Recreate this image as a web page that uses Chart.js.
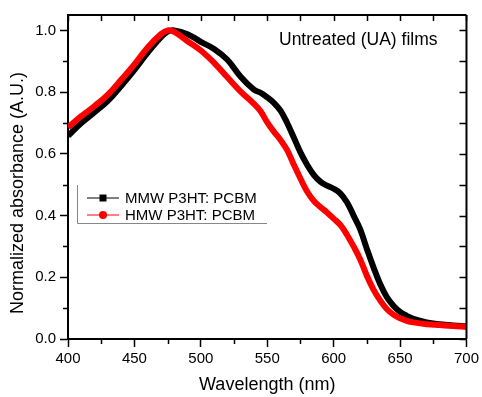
<!DOCTYPE html>
<html>
<head>
<meta charset="utf-8">
<script src="https://cdn.jsdelivr.net/npm/chart.js@4.4.1/dist/chart.umd.min.js"></script>
<style>
  html, body { margin: 0; padding: 0; background: #fff; }
  #wrap { width: 482px; height: 397px; position: relative; }
</style>
</head>
<body>
<div id="wrap"><canvas id="uv"></canvas></div>
<script>
// wavelength grid (nm)
const wavelength = [400, 410, 420, 430, 440, 450, 460, 470, 475, 480, 490, 500, 510, 520, 530, 540,
  545, 550, 555, 560, 565, 570, 575, 580, 585, 590, 595, 600, 605, 610, 615, 620, 625, 630, 635,
  640, 645, 650, 655, 660, 670, 680, 690, 700];

// MMW P3HT: PCBM (black)
const mmw = [0.658, 0.700, 0.735, 0.772, 0.820, 0.872, 0.928, 0.978, 0.996, 1.000, 0.988, 0.963,
  0.940, 0.905, 0.850, 0.808, 0.798, 0.783, 0.765, 0.740, 0.700, 0.653, 0.605, 0.565, 0.532,
  0.510, 0.497, 0.487, 0.472, 0.443, 0.400, 0.355, 0.292, 0.232, 0.178, 0.136, 0.108, 0.088,
  0.075, 0.065, 0.054, 0.048, 0.044, 0.041];

// HMW P3HT: PCBM (red)
const hmw = [0.686, 0.722, 0.755, 0.792, 0.840, 0.890, 0.945, 0.988, 1.000, 0.995, 0.965, 0.935,
  0.895, 0.848, 0.802, 0.762, 0.738, 0.702, 0.672, 0.645, 0.612, 0.565, 0.520, 0.478, 0.448,
  0.428, 0.410, 0.390, 0.370, 0.338, 0.300, 0.258, 0.205, 0.160, 0.125, 0.097, 0.079, 0.067,
  0.059, 0.054, 0.048, 0.045, 0.042, 0.040];

const seriesNames = ['MMW P3HT: PCBM', 'HMW P3HT: PCBM'];
const xTicks = [400, 450, 500, 550, 600, 650, 700];
const yTicks = [0.0, 0.2, 0.4, 0.6, 0.8, 1.0];
const note = 'Untreated (UA) films';
const xTitle = 'Wavelength (nm)';
const yTitle = 'Normalized absorbance (A.U.)';

const FONT = '"Liberation Sans", Arial, sans-serif';

const pts = vals => wavelength.map((w, i) => ({ x: w, y: vals[i] }));

// frame, minor / mirrored ticks, legend, annotation, y title
const decor = {
  id: 'decor',
  afterDraw(chart) {
    const { ctx, chartArea: a, scales: { x, y } } = chart;
    ctx.save();
    ctx.strokeStyle = '#000';
    ctx.lineWidth = 2;
    ctx.beginPath();
    ctx.moveTo(a.left, a.top); ctx.lineTo(a.right, a.top);
    ctx.moveTo(a.right, a.top); ctx.lineTo(a.right, a.bottom);
    ctx.stroke();

    ctx.lineWidth = 1.5;
    ctx.beginPath();
    // x: minor ticks outward at bottom, all ticks inward at top
    for (let w = 400; w <= 700; w += 25) {
      const px = Math.round(x.getPixelForValue(w)) + 0.5;
      if (w % 50 !== 0) { ctx.moveTo(px, a.bottom); ctx.lineTo(px, a.bottom + 5); }
      ctx.moveTo(px, a.top); ctx.lineTo(px, a.top + 6);
    }
    // y: minor ticks outward at left, all ticks inward at right
    for (let k = 0; k <= 10; k++) {
      const py = Math.round(y.getPixelForValue(k / 10)) + 0.5;
      if (k % 2 === 1) { ctx.moveTo(a.left, py); ctx.lineTo(a.left - 5, py); }
      ctx.moveTo(a.right, py); ctx.lineTo(a.right - 7, py);
    }
    ctx.stroke();

    // legend
    const lx = 77, ly0 = 198, dy = 17;
    ctx.strokeStyle = '#888';
    ctx.lineWidth = 1;
    ctx.beginPath();
    ctx.moveTo(lx + 0.5, 185); ctx.lineTo(lx + 0.5, 223.5); ctx.lineTo(267, 223.5);
    ctx.stroke();
    ctx.font = '15px ' + FONT;
    ctx.textBaseline = 'middle';
    ctx.textAlign = 'left';
    chart.data.datasets.slice().sort((p, q) => p.legendIndex - q.legendIndex).forEach((ds, i) => {
      const yy = ly0 + i * dy;
      ctx.strokeStyle = ds.borderColor;
      ctx.lineWidth = 1;
      ctx.beginPath(); ctx.moveTo(87, yy); ctx.lineTo(119, yy); ctx.stroke();
      ctx.fillStyle = ds.borderColor;
      if (ds.legendMarker === 'square') ctx.fillRect(99.5, yy - 3.5, 7, 7);
      else { ctx.beginPath(); ctx.arc(103, yy, 4, 0, Math.PI * 2); ctx.fill(); }
      ctx.fillStyle = '#000';
      ctx.fillText(ds.label, 125, yy + 1);
    });

    // annotation
    ctx.font = '17.5px ' + FONT;
    ctx.textBaseline = 'alphabetic';
    ctx.fillText(note, 279, 45);

    // y title
    ctx.font = '18px ' + FONT;
    ctx.translate(18, 193);
    ctx.rotate(-Math.PI / 2);
    ctx.textAlign = 'center';
    ctx.textBaseline = 'middle';
    ctx.fillText(yTitle, 0, 0);
    ctx.restore();
  }
};

new Chart(document.getElementById('uv'), {
  type: 'line',
  data: {
    datasets: [
      { label: seriesNames[0], data: pts(mmw), borderColor: '#000000', borderWidth: 6,
        pointRadius: 0, tension: 0.4, order: 1,
        legendIndex: 0, legendMarker: 'square' },
      { label: seriesNames[1], data: pts(hmw), borderColor: '#ff0000', borderWidth: 6,
        pointRadius: 0, tension: 0.4, order: 0,
        legendIndex: 1, legendMarker: 'circle' }
    ]
  },
  options: {
    responsive: true,
    maintainAspectRatio: false,
    animation: false,
    layout: { padding: { top: 15, right: 12, left: 0, bottom: 0 } },
    plugins: { legend: { display: false }, tooltip: { enabled: false } },
    scales: {
      x: {
        type: 'linear', min: 400, max: 700,
        afterFit: s => { s.height = 58; },
        afterBuildTicks: s => { s.ticks = xTicks.map(v => ({ value: v })); },
        ticks: { color: '#000', font: { family: FONT, size: 15 }, padding: 3, maxRotation: 0 },
        grid: { drawOnChartArea: false, tickLength: 8, tickColor: '#000', tickWidth: 1.5 },
        border: { color: '#000', width: 2 },
        title: { display: true, text: xTitle, color: '#000', font: { family: FONT, size: 18 },
                 padding: { top: 0, bottom: 1.5 } }
      },
      y: {
        min: 0, max: 1.05,
        afterFit: s => { s.width = 68; },
        afterBuildTicks: s => { s.ticks = yTicks.map(v => ({ value: v })); },
        ticks: { color: '#000', font: { family: FONT, size: 15 }, padding: 4,
                 callback: v => v.toFixed(1) },
        grid: { drawOnChartArea: false, tickLength: 8, tickColor: '#000', tickWidth: 1.5 },
        border: { color: '#000', width: 2 }
      }
    }
  },
  plugins: [decor]
});
</script>
</body>
</html>
